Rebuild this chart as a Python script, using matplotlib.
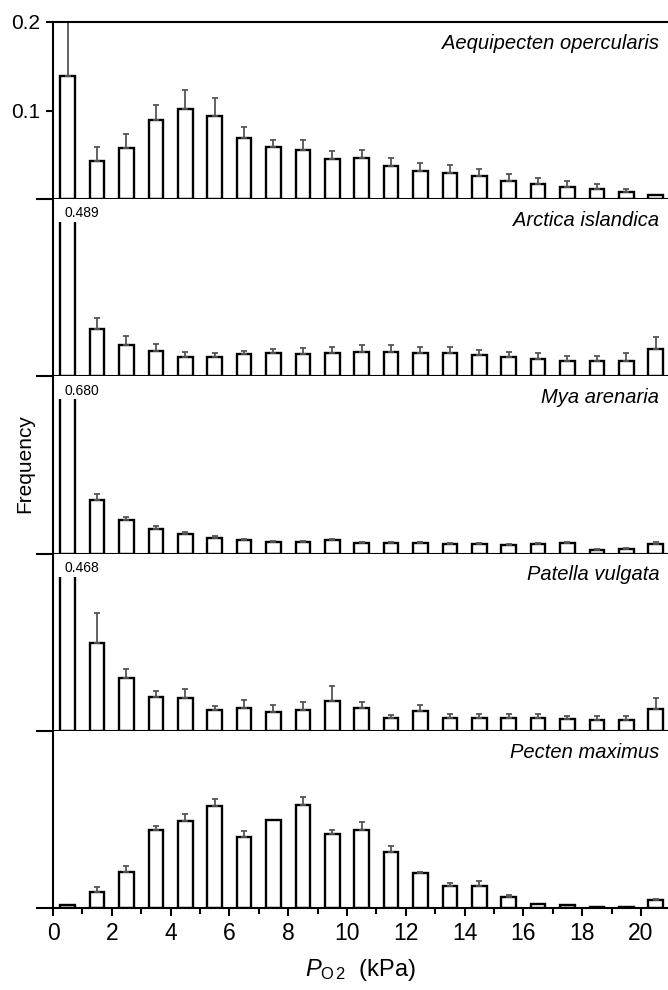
import matplotlib.pyplot as plt
import matplotlib as mpl
import numpy as np
from matplotlib.patches import Rectangle
from matplotlib.ticker import MultipleLocator

mpl.rcParams['font.family'] = ['Liberation Sans', 'DejaVu Sans']
mpl.rcParams['mathtext.fontset'] = 'custom'
mpl.rcParams['mathtext.rm'] = 'Liberation Sans'
mpl.rcParams['mathtext.it'] = 'Liberation Sans:italic'

# PO2 bins (kPa), bar centres
po2 = np.arange(0.5, 21, 1.0)

species = ['Aequipecten opercularis', 'Arctica islandica', 'Mya arenaria',
           'Patella vulgata', 'Pecten maximus']

aequipecten = [0.139, 0.043, 0.058, 0.089, 0.102, 0.094, 0.069, 0.059, 0.056, 0.045, 0.046,
               0.038, 0.032, 0.030, 0.026, 0.020, 0.017, 0.014, 0.011, 0.008, 0.005]
aequipecten_se = [0.075, 0.016, 0.016, 0.017, 0.021, 0.020, 0.012, 0.008, 0.011, 0.009, 0.010,
                  0.008, 0.009, 0.009, 0.008, 0.008, 0.007, 0.007, 0.006, 0.004, 0.0]

arctica = [0.489, 0.053, 0.036, 0.029, 0.022, 0.022, 0.025, 0.026, 0.025, 0.026, 0.027,
           0.028, 0.026, 0.026, 0.0245, 0.0215, 0.020, 0.017, 0.017, 0.017, 0.031]
arctica_se = [0.0, 0.013, 0.010, 0.008, 0.005, 0.004, 0.004, 0.005, 0.007, 0.007, 0.008,
              0.008, 0.007, 0.007, 0.0055, 0.0065, 0.006, 0.006, 0.006, 0.009, 0.013]

mya = [0.680, 0.061, 0.038, 0.028, 0.022, 0.018, 0.015, 0.0135, 0.013, 0.015, 0.012,
       0.012, 0.012, 0.011, 0.011, 0.010, 0.0105, 0.012, 0.0045, 0.0056, 0.011]
mya_se = [0.0, 0.006, 0.003, 0.003, 0.002, 0.0015, 0.001, 0.001, 0.001, 0.0015, 0.001,
          0.0015, 0.001, 0.001, 0.001, 0.001, 0.001, 0.0015, 0.001, 0.001, 0.002]

patella = [0.468, 0.099, 0.060, 0.038, 0.037, 0.024, 0.026, 0.021, 0.024, 0.0335, 0.026,
           0.015, 0.022, 0.015, 0.015, 0.015, 0.015, 0.013, 0.0117, 0.0117, 0.025]
patella_se = [0.0, 0.034, 0.010, 0.007, 0.010, 0.004, 0.009, 0.008, 0.008, 0.0175, 0.007,
              0.003, 0.007, 0.004, 0.004, 0.004, 0.004, 0.004, 0.0045, 0.0045, 0.0115]

pecten = [0.003, 0.018, 0.041, 0.0885, 0.098, 0.115, 0.080, 0.099, 0.116, 0.083, 0.0877,
          0.0636, 0.040, 0.0245, 0.0245, 0.0128, 0.005, 0.003, 0.0015, 0.001, 0.009]
pecten_se = [0.0, 0.006, 0.0065, 0.0045, 0.008, 0.008, 0.007, 0.0, 0.009, 0.0055, 0.0093,
             0.0064, 0.001, 0.0035, 0.0065, 0.0022, 0.0, 0.0, 0.0, 0.0, 0.001]

data = [(aequipecten, aequipecten_se), (arctica, arctica_se), (mya, mya_se),
        (patella, patella_se), (pecten, pecten_se)]

fig = plt.figure(figsize=(6.68, 9.9), dpi=100)
left, right, top, bottom = 53 / 668, 1.0, 1 - 22 / 990, 1 - 908 / 990
h = (top - bottom) / 5

axes = []
for i, (name, (vals, se)) in enumerate(zip(species, data)):
    ax = fig.add_axes([left, top - (i + 1) * h, right - left, h])
    axes.append(ax)
    vals = np.array(vals)
    se = np.array(se)

    bars = ax.bar(po2, vals, width=0.5, color='white', edgecolor='black', linewidth=1.7)
    # bars that run off the scale are drawn as open, broken columns
    for b, v in zip(bars, vals):
        if v > 0.2:
            clip = Rectangle((-1, -0.05), 30, 0.224, transform=ax.transData)
            b.set_clip_path(clip)
            ax.text(b.get_x() + 0.15, 0.184, f'{v:.3f}', fontsize=10, va='center', ha='left')

    m = se > 0
    ax.errorbar(po2[m], vals[m], yerr=[np.zeros(m.sum()), se[m]], fmt='none',
                ecolor='#555555', elinewidth=1.3, capsize=2.5, capthick=1.3)

    ax.text(20.63, 0.176, name, style='italic', fontsize=14.5, ha='right', va='center')

    ax.set_xlim(0, 20.92)
    ax.set_ylim(0, 0.2)
    ax.spines['right'].set_visible(False)
    if i > 0:
        ax.spines['top'].set_visible(False)
    for s in ax.spines.values():
        s.set_linewidth(1.5)

    # long tick at zero for every panel, labelled ticks only on the top one
    ax.yaxis.set_minor_locator(mpl.ticker.FixedLocator([0.0]))
    ax.tick_params(axis='y', which='minor', length=12, width=1.5)
    if i == 0:
        ax.set_yticks([0.1, 0.2])
        ax.set_yticklabels(['0.1', '0.2'])
        ax.tick_params(axis='y', which='major', length=5, width=1.5, labelsize=15, pad=4)
    else:
        ax.set_yticks([])

    if i == 4:
        ax.xaxis.set_major_locator(MultipleLocator(2))
        ax.xaxis.set_minor_locator(MultipleLocator(1))
        ax.tick_params(axis='x', which='major', length=6, width=1.5, labelsize=16.5, pad=4)
        ax.tick_params(axis='x', which='minor', length=4.5, width=1.5)
        ax.set_xlabel(r'$P_{\mathrm{O}\,\mathrm{2}}$  (kPa)', fontsize=17, labelpad=9)
    else:
        ax.set_xticks([])
        ax.tick_params(axis='x', which='minor', bottom=False)

fig.text(25 / 668, 1 - 464 / 990, 'Frequency', rotation=90, fontsize=15,
         ha='center', va='center')

fig.savefig('out.png', dpi=100)
